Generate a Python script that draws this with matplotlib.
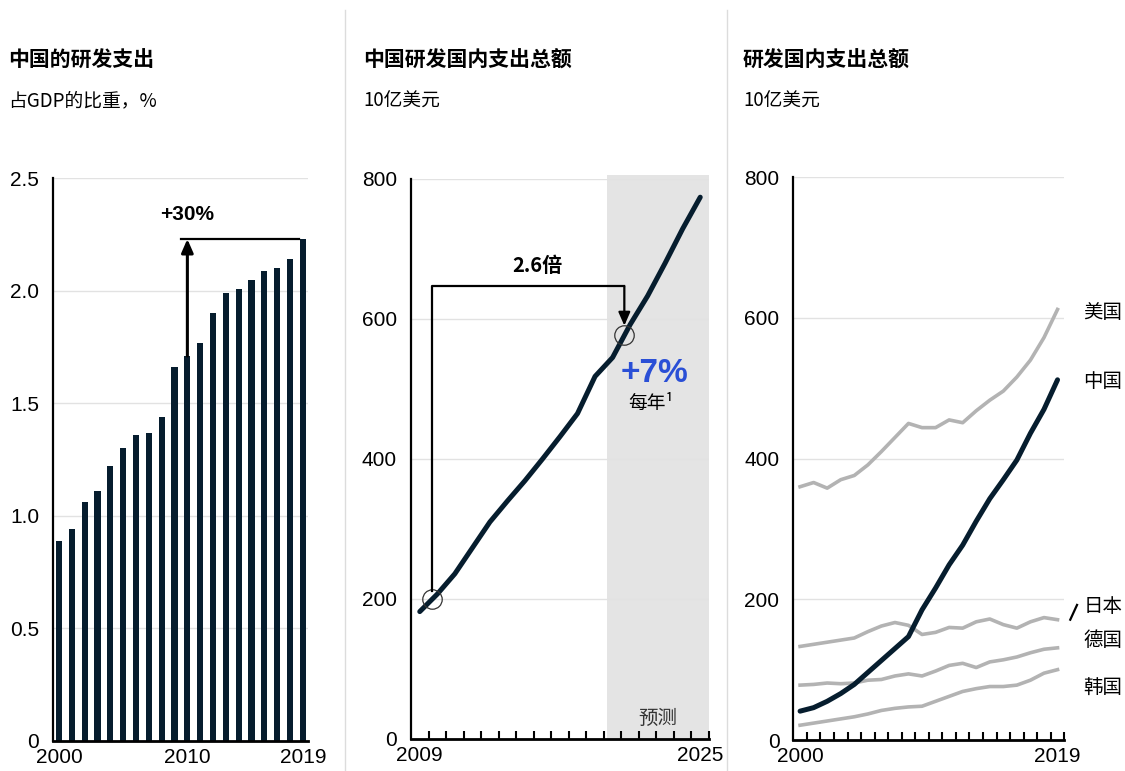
import matplotlib.pyplot as plt
import numpy as np

# ---- data ----
years_gdp = np.arange(2000, 2020)
rd_share = [0.89, 0.94, 1.06, 1.11, 1.22, 1.30, 1.36, 1.37, 1.44, 1.66,
            1.71, 1.77, 1.90, 1.99, 2.01, 2.05, 2.09, 2.10, 2.14, 2.23]

years_cn = np.arange(2009, 2026)
cn_spend = [182, 207, 236, 273, 310, 340, 369, 400, 432, 465,
            518, 545, 592, 633, 680, 729, 774]

years_cty = np.arange(2000, 2020)
usa = [360, 366, 358, 370, 376, 391, 410, 430, 450, 444,
       444, 455, 451, 468, 483, 496, 516, 540, 572, 612]
china = [41, 46, 55, 66, 79, 96, 113, 130, 147, 185,
         216, 249, 277, 311, 343, 370, 398, 436, 470, 512]
japan = [133, 136, 139, 142, 145, 154, 162, 167, 163, 150,
         153, 160, 159, 168, 172, 164, 159, 168, 174, 171]
germany = [78, 79, 81, 80, 81, 85, 86, 91, 94, 91,
           98, 106, 109, 103, 111, 114, 118, 124, 129, 131]
korea = [21, 24, 27, 30, 33, 37, 42, 45, 47, 48,
         55, 62, 69, 73, 76, 76, 78, 85, 95, 100]

DARK = '#061d2e'
GRAY = '#b3b3b3'
BLUE = '#2a4fd6'
GRID = '#e2e2e2'
CJK = ['Noto Sans CJK SC', 'DejaVu Sans']

plt.rcParams['font.family'] = ['Liberation Sans', 'Noto Sans CJK SC', 'DejaVu Sans']

W, H = 1125, 771
fig = plt.figure(figsize=(W / 100, H / 100), dpi=100)


def px_rect(l, t, r, b):
    return [l / W, 1 - b / H, (r - l) / W, (b - t) / H]


def style(ax):
    for s in ['top', 'right']:
        ax.spines[s].set_visible(False)
    ax.spines['left'].set_linewidth(1.6)
    ax.spines['bottom'].set_linewidth(2)
    ax.tick_params(axis='y', length=0, labelsize=15, pad=10)
    ax.tick_params(axis='x', which='major', length=0, labelsize=15, pad=5)
    ax.grid(axis='y', color=GRID, linewidth=1)
    ax.set_axisbelow(True)


# titles
titles = [(8, '中国的研发支出', '占GDP的比重，%'),
          (363, '中国研发国内支出总额', '10亿美元'),
          (743, '研发国内支出总额', '10亿美元')]
for x, t, s in titles:
    fig.text(x / W, 1 - 60 / H, t, fontsize=15, weight='bold', va='center', family=CJK)
    fig.text(x / W, 1 - 101 / H, s, fontsize=13.5, va='center', family=CJK)

# separators
for x in [345, 727]:
    fig.add_artist(plt.Line2D([x / W, x / W], [0, 1 - 10 / H], color='#dcdcdc', linewidth=1))

# ---- panel 1 ----
ax1 = fig.add_axes(px_rect(53, 178.3, 308, 740.8))
style(ax1)
ax1.bar(years_gdp, rd_share, width=0.48, color=DARK, zorder=2)
ax1.set_xlim(1999.53, 2019.4)
ax1.set_ylim(0, 2.5)
ax1.set_yticks([0, 0.5, 1.0, 1.5, 2.0, 2.5])
ax1.set_yticklabels(['0', '0.5', '1.0', '1.5', '2.0', '2.5'])
ax1.set_xticks([2000, 2010, 2019])
ax1.set_xticklabels(['2000', '2010', '2019'])
i10, i19 = 10, 19
ax1.annotate('', xy=(years_gdp[i10], rd_share[i19]), xytext=(years_gdp[i10], rd_share[i10]),
             arrowprops=dict(arrowstyle='-|>,head_width=0.35,head_length=0.8',
                             color='black', linewidth=2.2, shrinkA=0, shrinkB=0), zorder=4)
ax1.plot([years_gdp[i10] - 0.5, years_gdp[i19] - 0.3], [rd_share[i19]] * 2,
         color='black', linewidth=1.6, zorder=4)
ax1.text(years_gdp[i10], 2.34, '+30%', fontsize=15, weight='bold', ha='center', va='center')

# ---- panel 2 ----
ax2 = fig.add_axes(px_rect(411, 179, 709, 739))
style(ax2)
ax2.set_xlim(years_cn[0] - 0.5, years_cn[-1] + 0.5)
ax2.set_ylim(0, 800)
ax2.axvspan(2019.7, years_cn[-1] + 0.5, ymin=0, ymax=1.008, color='#e4e4e4',
            zorder=0, clip_on=False, linewidth=0)
ax2.plot(years_cn, cn_spend, color=DARK, linewidth=3.6, solid_capstyle='round', zorder=3)
ax2.set_yticks([0, 200, 400, 600, 800])
ax2.set_xticks([years_cn[0], years_cn[-1]])
ax2.set_xticklabels([str(years_cn[0]), str(years_cn[-1])])
ax2.set_xticks(years_cn + 0.5, minor=True)
ax2.tick_params(axis='x', which='minor', direction='in', length=6, width=1.5)

xa, xb = 2009.7, 2020.67
ya, yb = np.interp(xa, years_cn, cn_spend), np.interp(xb, years_cn, cn_spend)
ax2.plot([xa, xb], [ya, yb], 'o', markersize=14, mfc='none', mec='#333333', mew=0.9, zorder=4)
ax2.plot([xa, xa, xb], [ya + 12, 647, 647], color='black', linewidth=1.6, zorder=4)
ax2.annotate('', xy=(xb, yb + 14), xytext=(xb, 647),
             arrowprops=dict(arrowstyle='-|>,head_width=0.35,head_length=0.8',
                             color='black', linewidth=1.6, shrinkA=0, shrinkB=0), zorder=4)
ax2.text(2015.7, 677, '2.6倍', fontsize=14.5, weight='bold', ha='center', va='center', family=CJK)
ax2.text(2022.4, 522, '+7%', fontsize=24, weight='bold', color=BLUE, ha='center', va='center')
ax2.text(2022.2, 480, '每年¹', fontsize=13.5, ha='center', va='center', family=CJK)
ax2.text(2022.6, 30, '预测', fontsize=14, ha='center', va='center', family=CJK, color='#333333')

# ---- panel 3 ----
ax3 = fig.add_axes(px_rect(793.3, 177.2, 1064.3, 740))
style(ax3)
ax3.set_xlim(years_cty[0] - 0.5, years_cty[-1] + 0.5)
ax3.set_ylim(0, 800)
for series in [usa, japan, germany, korea]:
    ax3.plot(years_cty, series, color=GRAY, linewidth=2.6, zorder=2)
ax3.plot(years_cty, china, color=DARK, linewidth=3.6, solid_capstyle='round', zorder=3)
ax3.set_yticks([0, 200, 400, 600, 800])
ax3.set_xticks([years_cty[0], years_cty[-1]])
ax3.set_xticklabels([str(years_cty[0]), str(years_cty[-1])])
ax3.set_xticks(years_cty + 0.5, minor=True)
ax3.tick_params(axis='x', which='minor', direction='in', length=6, width=1.5)

labels = [('美国', 607), ('中国', 509), ('日本', 190), ('德国', 142), ('韩国', 75)]
for name, yv in labels:
    ax3.text(1.07, yv, name, transform=ax3.get_yaxis_transform(), fontsize=14,
             va='center', ha='left', family=CJK)
ax3.plot([1.022, 1.047], [171, 192], transform=ax3.get_yaxis_transform(),
         color='black', linewidth=1.6, clip_on=False)

fig.savefig('out.png', dpi=100)
